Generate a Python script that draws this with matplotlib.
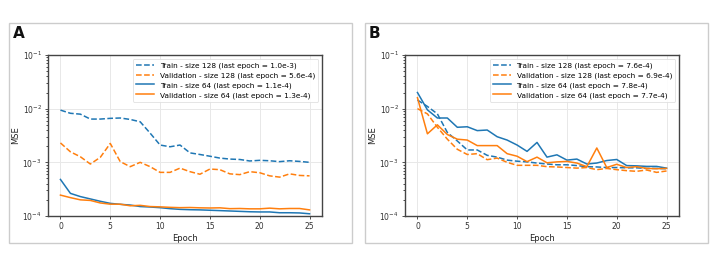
import numpy as np
import matplotlib
matplotlib.use("Agg")
import matplotlib.pyplot as plt
from matplotlib.patches import Rectangle

epochs = np.arange(26)

# Panel A
a_train_128 = [9.4e-3, 8.2e-3, 7.9e-3, 6.4e-3, 6.4e-3, 6.6e-3, 6.7e-3, 6.3e-3, 5.7e-3, 3.5e-3,
               2.1e-3, 1.95e-3, 2.1e-3, 1.5e-3, 1.4e-3, 1.3e-3, 1.2e-3, 1.15e-3, 1.13e-3, 1.06e-3,
               1.09e-3, 1.07e-3, 1.03e-3, 1.07e-3, 1.04e-3, 1.0e-3]
a_val_128 = [2.3e-3, 1.57e-3, 1.27e-3, 9.3e-4, 1.24e-3, 2.25e-3, 1.03e-3, 8.3e-4, 1.0e-3, 8.3e-4,
             6.5e-4, 6.5e-4, 7.8e-4, 6.7e-4, 6.0e-4, 7.5e-4, 7.3e-4, 6.1e-4, 5.9e-4, 6.7e-4,
             6.4e-4, 5.6e-4, 5.3e-4, 6.1e-4, 5.7e-4, 5.6e-4]
a_train_64 = [4.8e-4, 2.64e-4, 2.3e-4, 2.08e-4, 1.88e-4, 1.72e-4, 1.65e-4, 1.6e-4, 1.5e-4, 1.47e-4,
              1.43e-4, 1.37e-4, 1.33e-4, 1.31e-4, 1.3e-4, 1.28e-4, 1.26e-4, 1.24e-4, 1.22e-4, 1.2e-4,
              1.19e-4, 1.19e-4, 1.15e-4, 1.15e-4, 1.14e-4, 1.1e-4]
a_val_64 = [2.45e-4, 2.2e-4, 2.0e-4, 1.95e-4, 1.75e-4, 1.66e-4, 1.66e-4, 1.55e-4, 1.58e-4, 1.5e-4,
            1.48e-4, 1.45e-4, 1.43e-4, 1.44e-4, 1.42e-4, 1.41e-4, 1.42e-4, 1.37e-4, 1.38e-4, 1.36e-4,
            1.36e-4, 1.4e-4, 1.36e-4, 1.38e-4, 1.38e-4, 1.3e-4]
a_labels = ["Train - size 128 (last epoch = 1.0e-3)",
            "Validation - size 128 (last epoch = 5.6e-4)",
            "Train - size 64 (last epoch = 1.1e-4)",
            "Validation - size 64 (last epoch = 1.3e-4)"]

# Panel B
b_train_128 = [1.45e-2, 1.1e-2, 8.0e-3, 3.6e-3, 2.5e-3, 1.7e-3, 1.7e-3, 1.35e-3, 1.25e-3, 1.1e-3,
               1.05e-3, 1.02e-3, 9.7e-4, 9.3e-4, 9.0e-4, 9.0e-4, 8.7e-4, 8.3e-4, 8.2e-4, 8.0e-4,
               8.0e-4, 7.9e-4, 7.9e-4, 7.7e-4, 7.7e-4, 7.6e-4]
b_val_128 = [1.0e-2, 8.0e-3, 4.5e-3, 2.7e-3, 1.75e-3, 1.4e-3, 1.45e-3, 1.12e-3, 1.2e-3, 1.0e-3,
             8.8e-4, 8.8e-4, 8.8e-4, 8.3e-4, 8.2e-4, 8.0e-4, 7.8e-4, 8.0e-4, 7.3e-4, 7.7e-4,
             7.3e-4, 7.0e-4, 6.8e-4, 7.2e-4, 6.5e-4, 6.9e-4]
b_train_64 = [2.0e-2, 9.5e-3, 6.7e-3, 6.7e-3, 4.5e-3, 4.6e-3, 3.9e-3, 4.0e-3, 3.0e-3, 2.6e-3,
              2.1e-3, 1.6e-3, 2.35e-3, 1.25e-3, 1.38e-3, 1.1e-3, 1.15e-3, 9.3e-4, 9.7e-4, 1.08e-3,
              1.13e-3, 8.7e-4, 8.6e-4, 8.4e-4, 8.4e-4, 7.8e-4]
b_val_64 = [1.6e-2, 3.4e-3, 5.0e-3, 3.3e-3, 2.7e-3, 2.6e-3, 2.05e-3, 2.05e-3, 2.05e-3, 1.45e-3,
            1.3e-3, 1.03e-3, 1.25e-3, 9.8e-4, 1.02e-3, 1.04e-3, 9.7e-4, 8.3e-4, 1.85e-3, 8.0e-4,
            9.2e-4, 8.0e-4, 8.3e-4, 7.7e-4, 7.6e-4, 7.7e-4]
b_labels = ["Train - size 128 (last epoch = 7.6e-4)",
            "Validation - size 128 (last epoch = 6.9e-4)",
            "Train - size 64 (last epoch = 7.8e-4)",
            "Validation - size 64 (last epoch = 7.7e-4)"]

BLUE = "#1f77b4"
ORANGE = "#ff7f0e"

fig = plt.figure(figsize=(7.18, 2.67), dpi=100)

def draw_panel(left, letter, series, labels, frame_x):
    # light frame around the panel
    fig.patches.append(Rectangle((frame_x / 718, 24 / 267), 343 / 718, 220 / 267,
                                 transform=fig.transFigure, fill=False,
                                 edgecolor="#cccccc", linewidth=1.0))
    fig.text((frame_x + 4) / 718, 1 - 38 / 267, letter, fontsize=11, fontweight="bold",
             color="#111111")
    ax = fig.add_axes([left / 718, 51 / 267, 274 / 718, 161 / 267])
    styles = [(BLUE, "--"), (ORANGE, "--"), (BLUE, "-"), (ORANGE, "-")]
    for vals, (c, ls), lab in zip(series, styles, labels):
        ax.plot(epochs, vals, color=c, linestyle=ls, linewidth=1.1, label=lab)
    ax.set_yscale("log")
    ax.set_ylim(1e-4, 1e-1)
    ax.set_xlim(-1.25, 26.25)
    ax.set_xticks([0, 5, 10, 15, 20, 25])
    ax.grid(True, which="major", color="#e8e8e8", linewidth=0.7)
    ax.set_xlabel("Epoch", fontsize=6, labelpad=2, color="#222222")
    ax.set_ylabel("MSE", fontsize=6, labelpad=2, color="#222222")
    ax.tick_params(labelsize=5.5, length=2.5, width=0.6, pad=2, colors="#333333")
    ax.tick_params(which="minor", length=1.5, width=0.5)
    for s in ax.spines.values():
        s.set_color("#444444")
        s.set_linewidth(1.0)
    leg = ax.legend(loc="upper right", fontsize=5.3, handlelength=2.4, borderpad=0.45,
                    labelspacing=0.45, framealpha=0.9, edgecolor="#dddddd", fancybox=True)
    leg.get_frame().set_linewidth(0.6)
    return ax

draw_panel(48, "A", [a_train_128, a_val_128, a_train_64, a_val_64], a_labels, 9)
draw_panel(405, "B", [b_train_128, b_val_128, b_train_64, b_val_64], b_labels, 365)

fig.savefig("out.png", dpi=100)
